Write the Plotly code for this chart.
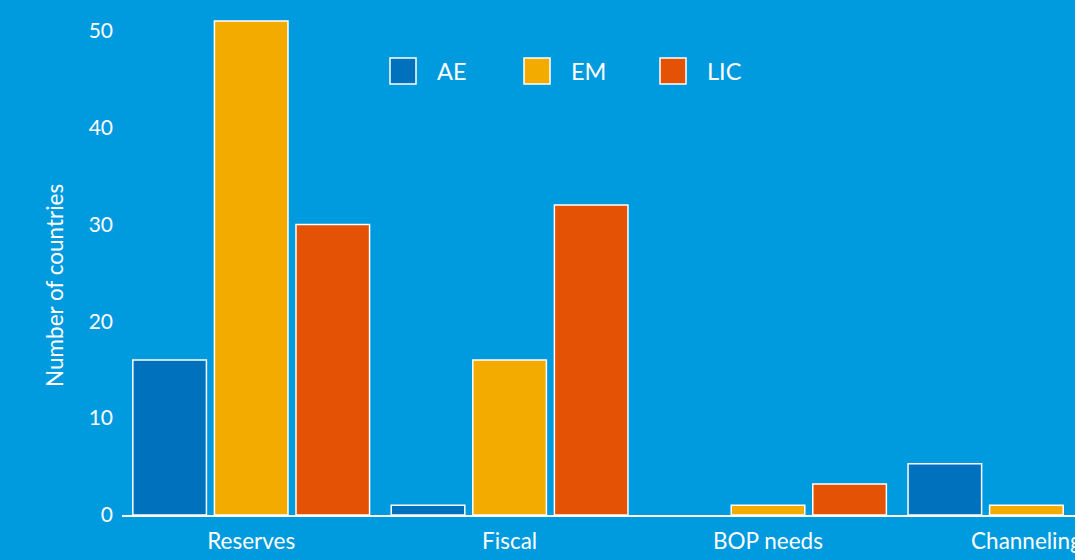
import plotly.graph_objects as go

categories = ["Reserves", "Fiscal", "BOP needs", "Channeling"]
series_names = ["AE", "EM", "LIC"]
ae_values = [16, 1, 0, 5.3]
em_values = [51, 16, 1, 1]
lic_values = [30, 32, 3.2, None]
y_tick_vals = [0, 10, 20, 30, 40, 50]

BG = "rgb(0,154,222)"
colors = ["rgb(0,113,188)", "rgb(243,171,0)", "rgb(227,82,5)"]
FONT = "Lato"

W, H = 1075, 560
L, R, T, B = 122, 0, 0, 45
PW, PH = W - L - R, H - T - B

def px_to_paper_x(px):
    return (px - L) / PW

def px_to_paper_y(py):
    return (H - B - py) / PH

fig = go.Figure()
x_idx = list(range(len(categories)))
for name, vals, col in zip(series_names, [ae_values, em_values, lic_values], colors):
    fig.add_trace(go.Bar(
        x=x_idx, y=vals, name=name,
        marker=dict(color=col, line=dict(color="white",
                                         width=[1.5 if v else 0 for v in vals])),
        showlegend=False,
    ))

# custom legend (large squares)
sq_left = [390, 524, 660]
txt_left = [436, 570, 706]
shapes = []
annotations = []
for i, name in enumerate(series_names):
    shapes.append(dict(type="rect", xref="paper", yref="paper",
                       x0=px_to_paper_x(sq_left[i]), x1=px_to_paper_x(sq_left[i] + 26),
                       y0=px_to_paper_y(84), y1=px_to_paper_y(58),
                       fillcolor=colors[i], line=dict(color="white", width=1.5)))
    annotations.append(dict(text=name, xref="paper", yref="paper",
                            x=px_to_paper_x(txt_left[i] - 1), y=px_to_paper_y(71),
                            xanchor="left", yanchor="middle", showarrow=False,
                            font=dict(family=FONT, size=23.5, color="white")))

annotations.append(dict(text="Number of countries", xref="paper", yref="paper",
                        x=px_to_paper_x(54), y=px_to_paper_y(286), textangle=-90,
                        xanchor="center", yanchor="middle", showarrow=False,
                        font=dict(family=FONT, size=22.5, color="white")))

unit = 258.4
fig.update_layout(
    width=W, height=H, template="none",
    paper_bgcolor=BG, plot_bgcolor=BG,
    margin=dict(l=L, r=R, t=T, b=B),
    barmode="group", bargap=0.053, bargroupgap=0.098,
    font=dict(family=FONT, color="white", size=21),
    xaxis=dict(range=[-0.5, PW / unit - 0.5], tickvals=x_idx, ticktext=categories,
               showgrid=False, zeroline=False, showline=True, linecolor="white", linewidth=2,
               ticks="", automargin=False, tickfont=dict(size=22.5, color="white"),
               ticklabelstandoff=5, ticklabeloverflow="allow"),
    yaxis=dict(range=[0, 515 / 9.686], tickvals=y_tick_vals, showgrid=False, zeroline=False,
               showline=False, ticks="", automargin=False, ticklabelstandoff=8,
               tickfont=dict(size=21, color="white")),
    shapes=shapes, annotations=annotations,
)

fig.write_html("out.html")
